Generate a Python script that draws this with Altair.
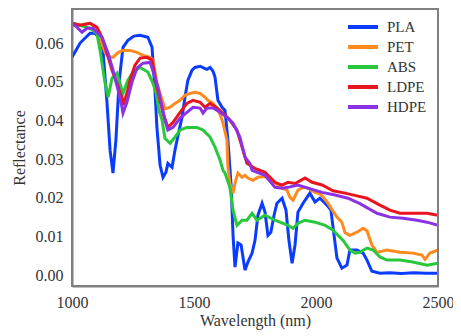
import altair as alt
import pandas as pd

materials = ["PLA", "PET", "ABS", "LDPE", "HDPE"]
colors = ["#0a3cff", "#ff8a1e", "#28c83c", "#e8141e", "#8c32e6"]

x_ticks = [1000, 1500, 2000, 2500]
y_ticks = [0.00, 0.01, 0.02, 0.03, 0.04, 0.05, 0.06]

pla_wl = [1000, 1016, 1033, 1057, 1074, 1094, 1115, 1127, 1143, 1156, 1168, 1180, 1193, 1209, 1229,
          1254, 1279, 1311, 1328, 1340, 1348, 1361, 1373, 1385, 1393, 1410, 1422, 1434, 1451, 1463,
          1475, 1492, 1504, 1525, 1541, 1553, 1566, 1578, 1586, 1598, 1615, 1627, 1639, 1652, 1660,
          1668, 1680, 1693, 1709, 1721, 1738, 1750, 1762, 1779, 1791, 1803, 1815, 1828, 1840, 1861,
          1877, 1889, 1902, 1914, 1926, 1947, 1975, 1996, 2016, 2045, 2061, 2074, 2086, 2106, 2127,
          2139, 2168, 2193, 2209, 2229, 2262, 2300, 2350, 2400, 2450, 2500]
pla_r = [0.0563, 0.0581, 0.0600, 0.0615, 0.0625, 0.0625, 0.0612, 0.0581, 0.0450, 0.0323, 0.0264, 0.0350,
         0.0500, 0.0589, 0.0607, 0.0618, 0.0620, 0.0615, 0.0589, 0.0478, 0.0382, 0.0284, 0.0253, 0.0266,
         0.0289, 0.0279, 0.0323, 0.0360, 0.0408, 0.0460, 0.0504, 0.0530, 0.0537, 0.0540, 0.0535, 0.0532,
         0.0537, 0.0527, 0.0512, 0.0452, 0.0434, 0.0426, 0.0349, 0.0233, 0.0103, 0.0021, 0.0083, 0.0078,
         0.0013, 0.0034, 0.0057, 0.0090, 0.0155, 0.0186, 0.0163, 0.0103, 0.0111, 0.0155, 0.0186, 0.0199,
         0.0168, 0.0090, 0.0031, 0.0078, 0.0163, 0.0186, 0.0212, 0.0189, 0.0199, 0.0181, 0.0168, 0.0103,
         0.0044, 0.0018, 0.0026, 0.0065, 0.0065, 0.0057, 0.0039, 0.0010, 0.0005, 0.0006, 0.0004, 0.0006,
         0.0005, 0.0005]

pet_wl = [1000, 1033, 1074, 1094, 1115, 1135, 1150, 1168, 1190, 1209, 1238, 1266, 1291, 1320, 1332,
          1348, 1361, 1381, 1402, 1422, 1443, 1463, 1484, 1504, 1525, 1545, 1557, 1578, 1594, 1607,
          1619, 1635, 1639, 1647, 1660, 1668, 1680, 1697, 1709, 1721, 1742, 1762, 1791, 1832, 1861,
          1881, 1893, 1906, 1926, 1947, 1967, 1996, 2016, 2029, 2049, 2070, 2086, 2106, 2119, 2139,
          2168, 2193, 2209, 2229, 2250, 2291, 2344, 2397, 2434, 2447, 2467, 2500]
pet_r = [0.0651, 0.0646, 0.0651, 0.0641, 0.0610, 0.0576, 0.0565, 0.0563, 0.0576, 0.0581, 0.0581, 0.0576,
         0.0568, 0.0563, 0.0556, 0.0496, 0.0470, 0.0430, 0.0434, 0.0444, 0.0452, 0.0465, 0.0470, 0.0473,
         0.0470, 0.0460, 0.0452, 0.0444, 0.0432, 0.0415, 0.0393, 0.0349, 0.0279, 0.0238, 0.0212, 0.0238,
         0.0264, 0.0253, 0.0258, 0.0251, 0.0245, 0.0253, 0.0255, 0.0238, 0.0225, 0.0220, 0.0202, 0.0194,
         0.0220, 0.0227, 0.0225, 0.0214, 0.0210, 0.0202, 0.0186, 0.0165, 0.0150, 0.0137, 0.0110, 0.0103,
         0.0111, 0.0121, 0.0115, 0.0078, 0.0059, 0.0065, 0.0059, 0.0057, 0.0052, 0.0041, 0.0057, 0.0065]

abs_wl = [1000, 1033, 1074, 1102, 1115, 1135, 1148, 1164, 1184, 1209, 1229, 1250, 1279, 1311, 1332,
          1345, 1355, 1369, 1381, 1402, 1422, 1443, 1471, 1512, 1537, 1566, 1586, 1607, 1619, 1627,
          1647, 1660, 1676, 1697, 1717, 1738, 1758, 1791, 1832, 1885, 1906, 1926, 1955, 1996, 2037,
          2070, 2111, 2139, 2160, 2180, 2209, 2234, 2262, 2291, 2344, 2397, 2455, 2500]
abs_r = [0.0651, 0.0646, 0.0638, 0.0625, 0.0581, 0.0499, 0.0460, 0.0509, 0.0522, 0.0470, 0.0504, 0.0525,
         0.0537, 0.0525, 0.0496, 0.0470, 0.0430, 0.0401, 0.0354, 0.0341, 0.0357, 0.0375, 0.0382, 0.0382,
         0.0375, 0.0357, 0.0331, 0.0297, 0.0271, 0.0264, 0.0227, 0.0168, 0.0129, 0.0142, 0.0142, 0.0160,
         0.0142, 0.0155, 0.0142, 0.0129, 0.0121, 0.0134, 0.0142, 0.0137, 0.0129, 0.0116, 0.0090, 0.0065,
         0.0057, 0.0059, 0.0070, 0.0065, 0.0047, 0.0039, 0.0039, 0.0034, 0.0026, 0.0031]

ldpe_wl = [1000, 1033, 1074, 1102, 1123, 1143, 1164, 1184, 1205, 1209, 1225, 1238, 1258, 1279, 1307,
           1328, 1348, 1373, 1393, 1414, 1443, 1471, 1496, 1525, 1545, 1566, 1594, 1619, 1647, 1676,
           1697, 1717, 1742, 1750, 1791, 1832, 1861, 1885, 1914, 1955, 1984, 2025, 2070, 2119, 2168,
           2209, 2262, 2303, 2344, 2400, 2455, 2500]
ldpe_r = [0.0651, 0.0646, 0.0651, 0.0641, 0.0615, 0.0574, 0.0530, 0.0496, 0.0457, 0.0439, 0.0470, 0.0504,
          0.0543, 0.0561, 0.0563, 0.0556, 0.0486, 0.0419, 0.0382, 0.0395, 0.0421, 0.0444, 0.0452, 0.0447,
          0.0434, 0.0444, 0.0432, 0.0419, 0.0401, 0.0375, 0.0331, 0.0289, 0.0279, 0.0276, 0.0266, 0.0240,
          0.0233, 0.0240, 0.0237, 0.0251, 0.0240, 0.0233, 0.0218, 0.0212, 0.0205, 0.0199, 0.0181, 0.0168,
          0.0160, 0.0160, 0.0160, 0.0155]

hdpe_wl = [1000, 1020, 1041, 1061, 1086, 1123, 1148, 1168, 1189, 1205, 1209, 1225, 1246, 1266, 1291,
           1320, 1340, 1352, 1381, 1393, 1414, 1443, 1471, 1496, 1525, 1537, 1553, 1578, 1607, 1635,
           1660, 1688, 1709, 1729, 1738, 1791, 1832, 1861, 1885, 1926, 1967, 2025, 2078, 2131, 2180,
           2250, 2303, 2356, 2414, 2455, 2500]
hdpe_r = [0.0651, 0.0641, 0.0628, 0.0638, 0.0638, 0.0615, 0.0574, 0.0530, 0.0478, 0.0434, 0.0419, 0.0447,
          0.0499, 0.0535, 0.0548, 0.0550, 0.0512, 0.0486, 0.0401, 0.0375, 0.0382, 0.0406, 0.0421, 0.0434,
          0.0432, 0.0419, 0.0432, 0.0432, 0.0421, 0.0408, 0.0393, 0.0357, 0.0305, 0.0289, 0.0271, 0.0258,
          0.0227, 0.0225, 0.0227, 0.0233, 0.0225, 0.0214, 0.0207, 0.0199, 0.0185, 0.0160, 0.0150, 0.0147,
          0.0142, 0.0137, 0.0129]

series = {
    "PLA": (pla_wl, pla_r),
    "PET": (pet_wl, pet_r),
    "ABS": (abs_wl, abs_r),
    "LDPE": (ldpe_wl, ldpe_r),
    "HDPE": (hdpe_wl, hdpe_r),
}

rows = []
for i, name in enumerate(materials):
    wls, rs = series[name]
    for w, r in zip(wls, rs):
        rows.append({"material": name, "wl": w, "r": r, "order": i})
df = pd.DataFrame(rows)

FONT = "Liberation Serif"
TXT = "#333333"
FRAME = "#808080"

lines = alt.Chart(df).mark_line(strokeWidth=3, clip=True).encode(
    x=alt.X("wl:Q",
            scale=alt.Scale(domain=[1000, 2500], nice=False, zero=False),
            axis=alt.Axis(title="Wavelength (nm)", values=x_ticks, format="d", ticks=False,
                          grid=False, labelPadding=8, titlePadding=2, domainColor=FRAME,
                          domainWidth=2, labelFont=FONT, titleFont=FONT, labelFontSize=16,
                          labelFlush=False, titleFontSize=16, titleFontWeight="normal",
                          labelColor=TXT, titleColor=TXT)),
    y=alt.Y("r:Q",
            scale=alt.Scale(domain=[-0.0028, 0.0688], nice=False, zero=False),
            axis=alt.Axis(title="Reflectance", values=y_ticks, format=".2f", ticks=False,
                          grid=False, labelPadding=9, titlePadding=8, domainColor=FRAME,
                          domainWidth=2, labelFont=FONT, titleFont=FONT, labelFontSize=16,
                          titleFontSize=16, titleFontWeight="normal", labelColor=TXT,
                          titleColor=TXT)),
    color=alt.Color("material:N",
                    scale=alt.Scale(domain=materials, range=colors),
                    legend=alt.Legend(title=None, orient="none", legendX=274, legendY=10,
                                      symbolType="stroke", symbolSize=900, symbolStrokeWidth=4,
                                      labelFont=FONT, labelFontSize=15, labelColor=TXT,
                                      clipHeight=16, labelOffset=7, rowPadding=4, padding=0)),
    order=alt.Order("order:Q"),
)

# plot frame drawn as thin filled bands along the four edges of the plot area
band = alt.Chart(df).mark_rect(color=FRAME, opacity=1)
frame_top = band.encode(x=alt.value(-1), x2=alt.value(367), y=alt.value(-1), y2=alt.value(1))
frame_bottom = band.encode(x=alt.value(-1), x2=alt.value(367), y=alt.value(276), y2=alt.value(278))
frame_left = band.encode(x=alt.value(-1), x2=alt.value(1), y=alt.value(-1), y2=alt.value(278))
frame_right = band.encode(x=alt.value(365), x2=alt.value(367), y=alt.value(-1), y2=alt.value(278))

chart = alt.layer(lines, frame_top, frame_bottom, frame_left, frame_right).properties(
    width=366, height=277,
    padding={"left": 64, "top": 1, "right": 15, "bottom": 48},
    autosize=alt.AutoSizeParams(type="none"),
).configure(
    font=FONT,
).configure_view(stroke=FRAME, strokeWidth=2)

chart.save("out.html", embed_options={"renderer": "svg", "actions": False})
